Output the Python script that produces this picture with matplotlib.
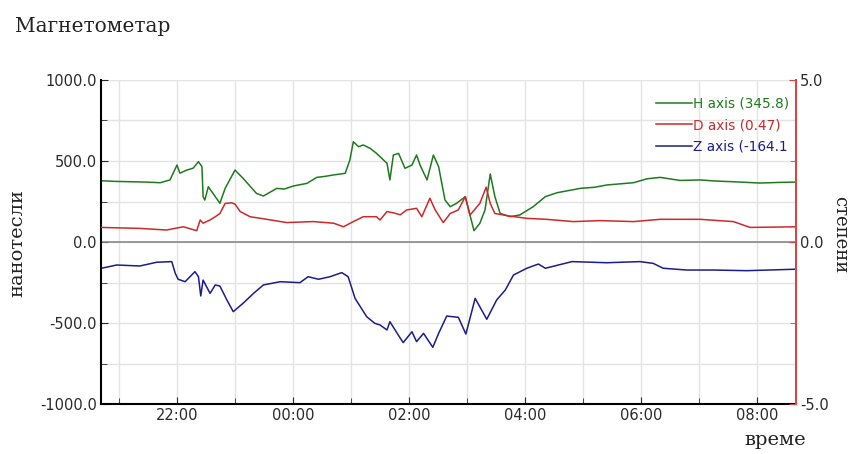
import matplotlib.pyplot as plt
from matplotlib.ticker import MultipleLocator, FuncFormatter

# --------------------
# Data (hours from midnight of the first day; past midnight > 24)
# --------------------
h_time = [20.70, 20.95, 21.20, 21.45, 21.71, 21.88, 22.00, 22.05, 22.17, 22.28,
          22.37, 22.43, 22.45, 22.48, 22.54, 22.66, 22.74, 22.83, 23.00, 23.14,
          23.37, 23.49, 23.72, 23.85, 24.01, 24.24, 24.41, 24.55, 24.70, 24.90,
          24.98, 25.04, 25.13, 25.21, 25.33, 25.44, 25.56, 25.62, 25.67, 25.73,
          25.82, 25.93, 26.05, 26.13, 26.19, 26.31, 26.42, 26.51, 26.62, 26.71,
          26.82, 26.97, 27.05, 27.12, 27.22, 27.31, 27.40, 27.48, 27.57, 27.74,
          27.91, 28.14, 28.35, 28.55, 28.95, 29.20, 29.41, 29.87, 30.10, 30.33,
          30.67, 31.02, 31.30, 31.59, 32.05, 32.40, 32.67]
h_vals = [378, 374, 372, 370, 366, 383, 475, 425, 444, 456,
          496, 465, 280, 259, 341, 280, 239, 331, 444, 393,
          300, 284, 331, 327, 346, 362, 399, 405, 414, 424,
          506, 619, 588, 599, 578, 547, 506, 486, 383, 537,
          547, 455, 475, 537, 475, 383, 537, 465, 259, 218,
          239, 280, 167, 70, 115, 198, 420, 280, 177, 156,
          167, 218, 280, 304, 331, 338, 352, 366, 390, 399,
          380, 383, 376, 372, 364, 368, 370]

d_time = [20.70, 21.36, 21.82, 22.11, 22.34, 22.40, 22.45, 22.57, 22.66, 22.74,
          22.83, 22.94, 23.00, 23.09, 23.26, 23.55, 23.89, 24.35, 24.70, 24.87,
          25.04, 25.21, 25.44, 25.50, 25.62, 25.73, 25.85, 25.96, 26.13, 26.22,
          26.36, 26.45, 26.59, 26.71, 26.85, 26.97, 27.05, 27.22, 27.33, 27.40,
          27.48, 27.74, 28.03, 28.37, 28.83, 29.29, 29.87, 30.33, 31.02, 31.59,
          31.88, 32.69]
d_vals = [0.45, 0.42, 0.37, 0.47, 0.35, 0.68, 0.58, 0.68, 0.78, 0.88,
          1.19, 1.21, 1.17, 0.94, 0.78, 0.70, 0.60, 0.63, 0.58, 0.47,
          0.63, 0.78, 0.78, 0.68, 0.94, 0.90, 0.84, 0.99, 1.04, 0.78,
          1.35, 0.99, 0.60, 0.88, 0.99, 1.40, 0.83, 1.19, 1.69, 1.19,
          0.88, 0.80, 0.73, 0.70, 0.63, 0.66, 0.63, 0.70, 0.70, 0.63,
          0.45, 0.47]

z_time = [20.70, 20.96, 21.36, 21.65, 21.91, 21.97, 22.02, 22.14, 22.31, 22.37,
          22.41, 22.45, 22.57, 22.66, 22.74, 22.86, 22.97, 23.14, 23.32, 23.49,
          23.78, 24.12, 24.26, 24.44, 24.64, 24.84, 24.95, 25.07, 25.27, 25.41,
          25.50, 25.62, 25.67, 25.85, 25.90, 26.05, 26.13, 26.25, 26.41, 26.51,
          26.65, 26.85, 26.98, 27.14, 27.34, 27.51, 27.66, 27.80, 28.03, 28.23,
          28.35, 28.81, 29.41, 29.98, 30.21, 30.38, 30.79, 31.25, 31.82, 32.66]
z_vals = [-162, -142, -148, -125, -121, -193, -230, -245, -183, -214,
          -333, -235, -317, -265, -272, -358, -430, -378, -317, -265,
          -245, -251, -214, -230, -214, -189, -214, -348, -461, -502,
          -512, -543, -492, -594, -621, -554, -615, -564, -650, -564,
          -457, -465, -568, -348, -477, -358, -296, -204, -162, -136,
          -162, -121, -128, -121, -132, -162, -173, -173, -177, -168]

labels = ["H axis (345.8)", "D axis (0.47)", "Z axis (-164.1"]
colors = ["#1f7a1f", "#cc2a2a", "#1c1c8a"]

# --------------------
# Plot
# --------------------
fig = plt.figure(figsize=(8.58, 4.54), dpi=100)
ax = fig.add_axes([0.1177, 0.1101, 0.81, 0.7137])
ax2 = ax.twinx()

l1, = ax.plot(h_time, h_vals, color=colors[0], linewidth=1.1)
l3, = ax.plot(z_time, z_vals, color=colors[2], linewidth=1.1)
l2, = ax2.plot(d_time, d_vals, color=colors[1], linewidth=1.1)

ax.axhline(0, color="#8a8a8a", linewidth=1.2, zorder=1)

ax.set_xlim(20.69, 32.67)
ax.set_ylim(-1000, 1000)
ax2.set_ylim(-5, 5)

ax.xaxis.set_major_locator(MultipleLocator(2))
ax.xaxis.set_minor_locator(MultipleLocator(1))
ax.xaxis.set_major_formatter(FuncFormatter(lambda v, p: "%02d:00" % (int(round(v)) % 24)))
ax.yaxis.set_major_locator(MultipleLocator(500))
ax.yaxis.set_minor_locator(MultipleLocator(250))
ax.yaxis.set_major_formatter(FuncFormatter(lambda v, p: "%.1f" % v))
ax2.yaxis.set_major_locator(MultipleLocator(5))
ax2.yaxis.set_minor_locator(MultipleLocator(2.5))
ax2.yaxis.set_major_formatter(FuncFormatter(lambda v, p: "%.1f" % v))

ax.grid(True, which="both", color="#e3e3e3", linewidth=1)
ax.set_axisbelow(True)

for a in (ax, ax2):
    a.tick_params(which="both", direction="in", labelsize=10.5, colors="#2a2a2a", pad=3)
    a.tick_params(which="major", length=5)
    a.tick_params(which="minor", length=4)
    a.spines["top"].set_visible(False)
ax.spines["right"].set_visible(False)
ax2.spines["left"].set_visible(False)
ax2.spines["bottom"].set_visible(False)
ax2.spines["right"].set_color("#d04848")
ax2.spines["right"].set_linewidth(1.5)
ax.spines["left"].set_linewidth(1.5)
ax.spines["bottom"].set_linewidth(1.5)
ax2.tick_params(axis="y", which="both", color="#d04848")

leg = ax2.legend([l1, l2, l3], labels, loc="upper right", bbox_to_anchor=(1.0, 0.97),
                 frameon=False, fontsize=9.8, handlelength=2.6, handletextpad=0.1,
                 labelspacing=0.55, borderaxespad=0.1, labelcolor="linecolor")

serif = "DejaVu Serif"
fig.text(15 / 858, 1 - 26 / 454, "Магнетометар", family=serif, fontsize=14.5,
         va="center", ha="left", color="#222222")
fig.text(17 / 858, 1 - 243 / 454, "нанотесли", family=serif, fontsize=14,
         rotation=90, va="center", ha="center", color="#222222")
fig.text(840 / 858, 1 - 235 / 454, "степени", family=serif, fontsize=13,
         rotation=270, va="center", ha="center", color="#222222")
fig.text(775 / 858, 1 - 440 / 454, "време", family=serif, fontsize=14,
         va="center", ha="center", color="#222222")

plt.savefig("out.png", dpi=100)
